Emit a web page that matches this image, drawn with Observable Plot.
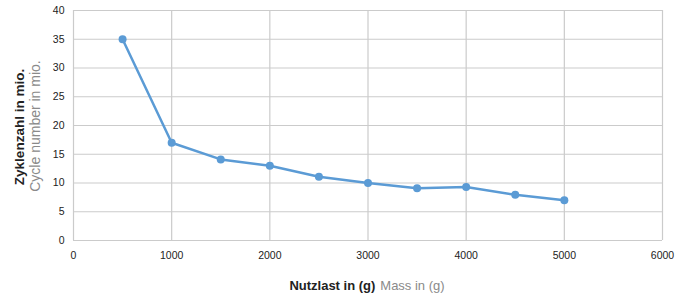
<!DOCTYPE html>
<html>
<head>
<meta charset="utf-8">
<script src="https://cdn.jsdelivr.net/npm/d3@7"></script>
<script src="https://cdn.jsdelivr.net/npm/@observablehq/plot@0.6"></script>
<style>
  html, body { margin: 0; padding: 0; background: #fff; }
  #chart svg { display: block; }
</style>
</head>
<body>
<div id="chart"></div>
<script>
const payload = [500, 1000, 1500, 2000, 2500, 3000, 3500, 4000, 4500, 5000];
const cycles = [35, 17, 14.1, 13, 11.1, 10, 9.1, 9.3, 7.95, 7];
const xTicks = [0, 1000, 2000, 3000, 4000, 5000, 6000];
const yTicks = [0, 5, 10, 15, 20, 25, 30, 35, 40];

const data = payload.map((p, i) => ({x: p, y: cycles[i]}));
const blue = "#5b9bd5";
const grid = "#cbcbcb";

const chart = Plot.plot({
  width: 680,
  height: 294,
  marginLeft: 73,
  marginRight: 18,
  marginTop: 10,
  marginBottom: 54,
  style: {fontFamily: "'Liberation Sans', Arial, sans-serif", fontSize: "10.5px", color: "#222"},
  x: {domain: [0, 6000], ticks: xTicks, tickFormat: d => String(d)},
  y: {domain: [0, 40], ticks: yTicks},
  marks: [
    Plot.ruleX(xTicks, {stroke: grid, strokeWidth: 1.2}),
    Plot.ruleY(yTicks, {stroke: grid, strokeWidth: 1.2}),
    Plot.axisX({ticks: xTicks, tickSize: 0, tickPadding: 11, label: null, fontWeight: 500, tickFormat: d => String(d)}),
    Plot.axisY({ticks: yTicks, tickSize: 0, tickPadding: 9, label: null, fontWeight: 500}),
    Plot.line(data, {x: "x", y: "y", stroke: blue, strokeWidth: 2.5}),
    Plot.dot(data, {x: "x", y: "y", fill: blue, r: 4})
  ]
});

document.getElementById("chart").appendChild(chart);

const svg = d3.select(chart);
const ff = "'Liberation Sans', Arial, sans-serif";
const xt = svg.append("text")
  .attr("x", 367).attr("y", 289.5)
  .attr("text-anchor", "middle")
  .style("font-family", ff).style("font-size", "13px");
xt.append("tspan").attr("font-weight", "bold").attr("fill", "#222").text("Nutzlast in (g)");
xt.append("tspan").attr("fill", "#8a8a8a").attr("dx", 5).text("Mass in (g)");

svg.append("text")
  .attr("transform", "translate(23.5,127) rotate(-90)")
  .attr("text-anchor", "middle")
  .style("font-family", ff).style("font-size", "13.5px")
  .attr("font-weight", "bold").attr("fill", "#222")
  .text("Zyklenzahl in mio.");
svg.append("text")
  .attr("transform", "translate(40,126) rotate(-90)")
  .attr("text-anchor", "middle")
  .style("font-family", ff).style("font-size", "14px")
  .attr("fill", "#8a8a8a")
  .text("Cycle number in mio.");
</script>
</body>
</html>
